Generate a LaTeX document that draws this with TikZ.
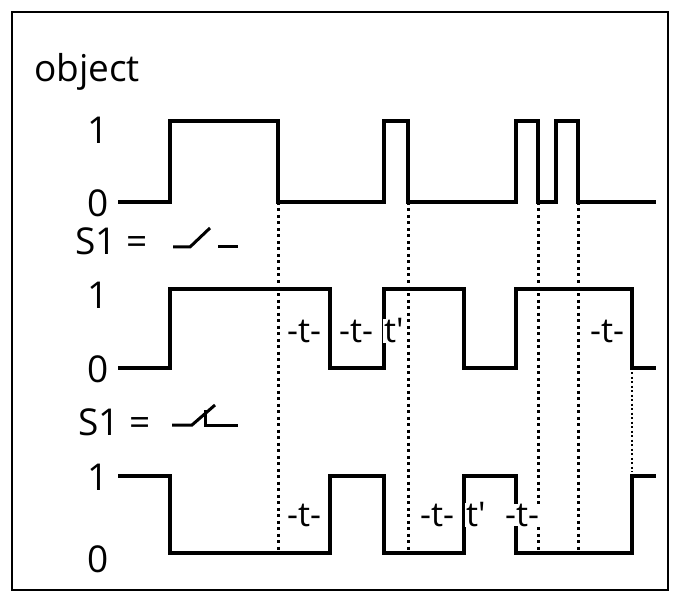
\documentclass[tikz,border=0pt]{standalone}
\usepackage{fontspec}
\setmainfont{Open Sans}
\begin{document}
\begin{tikzpicture}[x=1pt,y=-1pt,
  sig/.style={line width=4.5pt,line join=miter},
  dot/.style={line width=3pt,dash pattern=on 3pt off 3.5pt},
  tdot/.style={line width=1.6pt,dash pattern=on 2pt off 2.5pt},
  lbl/.style={font=\fontsize{37}{40}\selectfont,inner sep=0pt},
  tl/.style={font=\fontsize{34}{36}\selectfont,inner sep=0pt,fill=white,inner xsep=1pt},
  sw/.style={line width=3pt}]
\useasboundingbox (0,0) rectangle (679,601);
\draw[line width=2.5pt] (12,12) rectangle (668,590);
\node[lbl,anchor=west] (obj) at (34,72) {object};
\node[lbl] (o1) at (98,130) {1};
\node[lbl] (o0) at (98,203) {0};
\node[lbl,anchor=west] (s1a) at (75,241) {S1 =};
\node[lbl] (a1) at (98,295) {1};
\node[lbl] (a0) at (98,369) {0};
\node[lbl,anchor=west] (s1b) at (78,422) {S1 =};
\node[lbl] (b1) at (98,477) {1};
\node[lbl] (b0) at (98,559) {0};
% dotted
\draw[dot] (278,202) -- (278,553);
\draw[dot] (408,202) -- (408,553);
\draw[dot] (538,202) -- (538,553);
\draw[dot] (578,202) -- (578,553);
\draw[tdot] (632,372) -- (632,472);
% signals
\draw[sig] (118,202) -- (170,202) -- (170,121) -- (278,121) -- (278,202) -- (384,202) -- (384,121) -- (408,121) -- (408,202) -- (516,202) -- (516,121) -- (538,121) -- (538,202) -- (556,202) -- (556,121) -- (578,121) -- (578,202) -- (656,202);
\draw[sig] (118,368) -- (170,368) -- (170,289) -- (330,289) -- (330,368) -- (384,368) -- (384,289) -- (464,289) -- (464,368) -- (516,368) -- (516,289) -- (632,289) -- (632,368) -- (656,368);
\draw[sig] (118,476) -- (170,476) -- (170,553) -- (330,553) -- (330,476) -- (384,476) -- (384,553) -- (464,553) -- (464,476) -- (516,476) -- (516,553) -- (632,553) -- (632,476) -- (656,476);
% switch symbols
\draw[sw] (173,247) -- (190,247) -- (210,228);
\draw[sw] (218,247) -- (238,247);
\draw[sw] (172,425) -- (192,425) -- (215,405);
\draw[sw] (205,410) -- (205,425) -- (238,425);
% labels
\node[tl] (t1) at (304,331) {-t-};
\node[tl] (t2) at (356,331) {-t-};
\node[tl] (t3) at (394,331) {t\textquotesingle};
\node[tl] (t4) at (607,331) {-t-};
\node[tl] (t5) at (304,515) {-t-};
\node[tl] (t6) at (437,515) {-t-};
\node[tl] (t7) at (476,515) {t\textquotesingle};
\node[tl] (t8) at (522,515) {-t-};
\end{tikzpicture}
\end{document}
